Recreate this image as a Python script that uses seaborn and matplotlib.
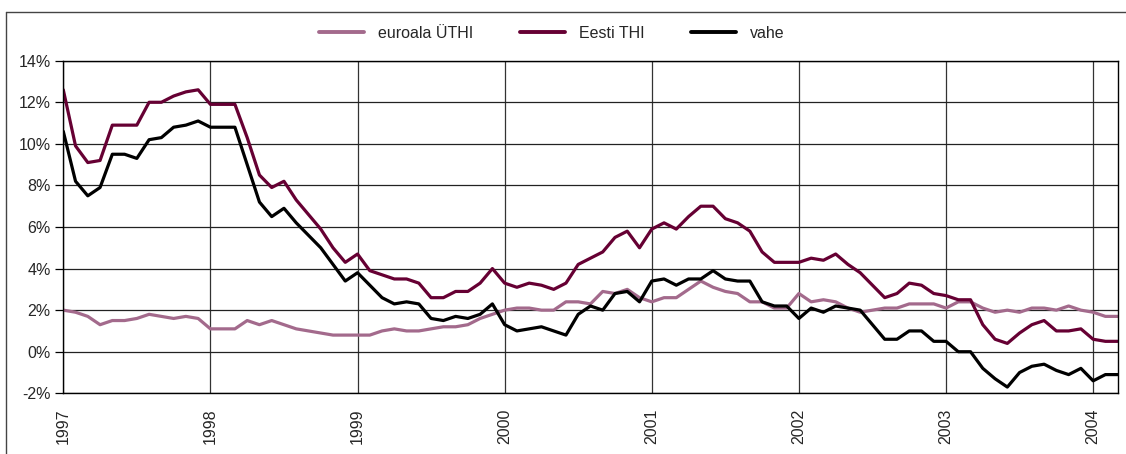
import numpy as np
import pandas as pd
import matplotlib.pyplot as plt
import matplotlib.ticker as mtick
from matplotlib.lines import Line2D
import seaborn as sns

# Monthly inflation, Jan 1997 .. Mar 2004 (% yoy)
euro = [2.0, 1.9, 1.7, 1.3, 1.5, 1.5, 1.6, 1.8, 1.7, 1.6, 1.7, 1.6,
        1.1, 1.1, 1.1, 1.5, 1.3, 1.5, 1.3, 1.1, 1.0, 0.9, 0.8, 0.8,
        0.8, 0.8, 1.0, 1.1, 1.0, 1.0, 1.1, 1.2, 1.2, 1.3, 1.6, 1.8,
        2.0, 2.1, 2.1, 2.0, 2.0, 2.4, 2.4, 2.3, 2.9, 2.8, 3.0, 2.6,
        2.4, 2.6, 2.6, 3.0, 3.4, 3.1, 2.9, 2.8, 2.4, 2.4, 2.1, 2.1,
        2.8, 2.4, 2.5, 2.4, 2.1, 1.9, 2.0, 2.1, 2.1, 2.3, 2.3, 2.3,
        2.1, 2.4, 2.4, 2.1, 1.9, 2.0, 1.9, 2.1, 2.1, 2.0, 2.2, 2.0,
        1.9, 1.7, 1.7]
eesti = [12.6, 9.9, 9.1, 9.2, 10.9, 10.9, 10.9, 12.0, 12.0, 12.3, 12.5, 12.6,
         11.9, 11.9, 11.9, 10.3, 8.5, 7.9, 8.2, 7.3, 6.6, 5.9, 5.0, 4.3,
         4.7, 3.9, 3.7, 3.5, 3.5, 3.3, 2.6, 2.6, 2.9, 2.9, 3.3, 4.0,
         3.3, 3.1, 3.3, 3.2, 3.0, 3.3, 4.2, 4.5, 4.8, 5.5, 5.8, 5.0,
         5.9, 6.2, 5.9, 6.5, 7.0, 7.0, 6.4, 6.2, 5.8, 4.8, 4.3, 4.3,
         4.3, 4.5, 4.4, 4.7, 4.2, 3.8, 3.2, 2.6, 2.8, 3.3, 3.2, 2.8,
         2.7, 2.5, 2.5, 1.3, 0.6, 0.4, 0.9, 1.3, 1.5, 1.0, 1.0, 1.1,
         0.6, 0.5, 0.5]
vahe = [10.6, 8.2, 7.5, 7.9, 9.5, 9.5, 9.3, 10.2, 10.3, 10.8, 10.9, 11.1,
        10.8, 10.8, 10.8, 9.0, 7.2, 6.5, 6.9, 6.2, 5.6, 5.0, 4.2, 3.4,
        3.8, 3.2, 2.6, 2.3, 2.4, 2.3, 1.6, 1.5, 1.7, 1.6, 1.8, 2.3,
        1.3, 1.0, 1.1, 1.2, 1.0, 0.8, 1.8, 2.2, 2.0, 2.8, 2.9, 2.4,
        3.4, 3.5, 3.2, 3.5, 3.5, 3.9, 3.5, 3.4, 3.4, 2.4, 2.2, 2.2,
        1.6, 2.1, 1.9, 2.2, 2.1, 2.0, 1.3, 0.6, 0.6, 1.0, 1.0, 0.5,
        0.5, 0.0, 0.0, -0.8, -1.3, -1.7, -1.0, -0.7, -0.6, -0.9, -1.1, -0.8,
        -1.4, -1.1, -1.1]
years = ["1997", "1998", "1999", "2000", "2001", "2002", "2003", "2004"]
series_names = ["euroala ÜTHI", "Eesti THI", "vahe"]
colors = ["#A36A8C", "#660033", "#000000"]

month = np.arange(len(euro))
df = pd.DataFrame({"month": np.tile(month, 3),
                   "value": euro + eesti + vahe,
                   "series": np.repeat(series_names, len(euro))})

sns.set_style("white")
plt.rcParams["font.family"] = ["Liberation Sans", "DejaVu Sans"]

fig = plt.figure(figsize=(11.26, 4.54), dpi=100)
ax = fig.add_axes([0.0562, 0.1337, 0.9364, 0.7326])

sns.lineplot(data=df, x="month", y="value", hue="series", palette=colors,
             linewidth=2.3, ax=ax, legend=False)

ax.set_xlim(0, len(euro) - 1)
ax.set_ylim(-2, 14)
ax.yaxis.set_major_locator(mtick.MultipleLocator(2))
ax.yaxis.set_major_formatter(mtick.FuncFormatter(lambda v, p: f"{v:.0f}%"))
ax.set_xticks(np.arange(len(years)) * 12)
ax.set_xticklabels(years, rotation=90)
ax.set_xlabel(None)
ax.set_ylabel(None)

ax.grid(axis="y", color="#222222", linewidth=0.9)
ax.grid(axis="x", color="#333333", linewidth=0.9)
ax.set_axisbelow(True)
for s in ax.spines.values():
    s.set_color("black")
    s.set_linewidth(1.0)

ax.tick_params(axis="y", length=6, width=0.9, color="black", direction="out",
               labelsize=11.5, pad=3, left=True)
ax.tick_params(axis="x", length=0, labelsize=11.5, pad=11)

# legend along the top
handles = [Line2D([0], [0], color=c, linewidth=2.8) for c in colors]
fig.legend(handles, series_names, loc="center", ncol=3, frameon=False,
           bbox_to_anchor=(552 / 1126, 1 - 33 / 454), fontsize=11.5,
           handlelength=2.8, handletextpad=0.9, columnspacing=2.9)

# outer chart frame (top and left edges visible)
fig.add_artist(Line2D([6 / 1126, 1], [1 - 12 / 454, 1 - 12 / 454],
                      color="#444444", linewidth=1.0, transform=fig.transFigure))
fig.add_artist(Line2D([6 / 1126, 6 / 1126], [0, 1 - 12 / 454],
                      color="#444444", linewidth=1.0, transform=fig.transFigure))

plt.savefig("out.png", dpi=100)
